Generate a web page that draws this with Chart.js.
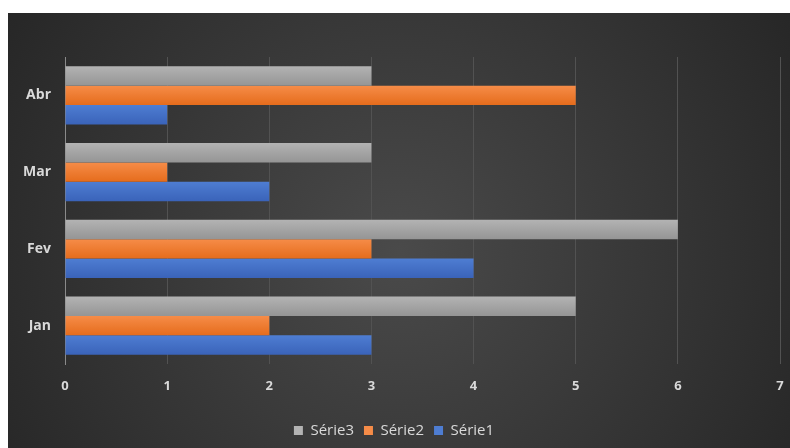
<!DOCTYPE html>
<html>
<head>
<meta charset="utf-8">
<script src="https://cdn.jsdelivr.net/npm/chart.js@4"></script>
<style>
  body { margin: 0; background: #fff; }
  #wrap { position: absolute; left: 8px; top: 13px; width: 782px; height: 435px; }
</style>
</head>
<body>
<div id="wrap"><canvas id="barChart"></canvas></div>
<script>
const months = ["Jan", "Fev", "Mar", "Abr"];
const serie1 = [3, 4, 2, 1];
const serie2 = [2, 3, 1, 5];
const serie3 = [5, 6, 3, 3];

const textColor = "#d9d9d9";
// top / bottom shades for the bar gradient
const shades = {
  "Série3": ["#b3b3b3", "#959595"],
  "Série2": ["#f68c48", "#e56c1c"],
  "Série1": ["#4e7dd2", "#3a63b9"],
};

// dark radial background like the Excel style
const bgPlugin = {
  id: "bg",
  beforeDraw(chart) {
    const { ctx, width, height } = chart;
    const g = ctx.createRadialGradient(width * 0.5, height * 0.55, 0, width * 0.5, height * 0.55, width * 0.6);
    g.addColorStop(0, "#4a4a4a");
    g.addColorStop(1, "#262626");
    ctx.save();
    ctx.fillStyle = g;
    ctx.fillRect(0, 0, width, height);
    ctx.restore();
  },
};

// give each bar a soft vertical gradient
const barShade = {
  id: "barShade",
  beforeDatasetsDraw(chart) {
    const ctx = chart.ctx;
    chart.data.datasets.forEach((ds, i) => {
      const s = shades[ds.label];
      chart.getDatasetMeta(i).data.forEach((el) => {
        const g = ctx.createLinearGradient(0, el.y - el.height / 2, 0, el.y + el.height / 2);
        g.addColorStop(0, s[0]);
        g.addColorStop(1, s[1]);
        el.options.backgroundColor = g;
      });
    });
  },
};

// scriptable so every bar keeps its own options object
const flat = (c) => shades[c.dataset.label][0];

new Chart(document.getElementById("barChart"), {
  type: "bar",
  plugins: [bgPlugin, barShade],
  data: {
    labels: months,
    datasets: [
      { label: "Série3", data: serie3, backgroundColor: flat },
      { label: "Série2", data: serie2, backgroundColor: flat },
      { label: "Série1", data: serie1, backgroundColor: flat },
    ],
  },
  options: {
    indexAxis: "y",
    responsive: true,
    maintainAspectRatio: false,
    animation: false,
    datasets: {
      bar: { categoryPercentage: 0.76, barPercentage: 1 },
    },
    layout: {
      padding: { top: 44, right: 10, left: 0, bottom: 0 },
    },
    scales: {
      x: {
        min: 0,
        max: 7,
        ticks: {
          stepSize: 1,
          color: textColor,
          padding: 2,
          font: { family: "Open Sans", size: 13, weight: "bold" },
        },
        grid: { color: "#525252", tickColor: "rgba(0,0,0,0)", tickLength: 12 },
        border: { display: false },
        afterFit(scale) {
          scale.height = 49;
        },
      },
      y: {
        reverse: true,
        ticks: {
          color: textColor,
          padding: 14,
          font: { family: "Open Sans", size: 14, weight: "bold" },
        },
        grid: { display: false, drawTicks: false },
        border: { color: "#8a8a8a", width: 1 },
        afterFit(scale) {
          scale.width = 57;
        },
      },
    },
    plugins: {
      legend: {
        position: "bottom",
        labels: {
          color: textColor,
          boxWidth: 9,
          boxHeight: 9,
          padding: 10,
          font: { family: "Open Sans", size: 15 },
        },
      },
      tooltip: { enabled: false },
    },
  },
});
</script>
</body>
</html>
